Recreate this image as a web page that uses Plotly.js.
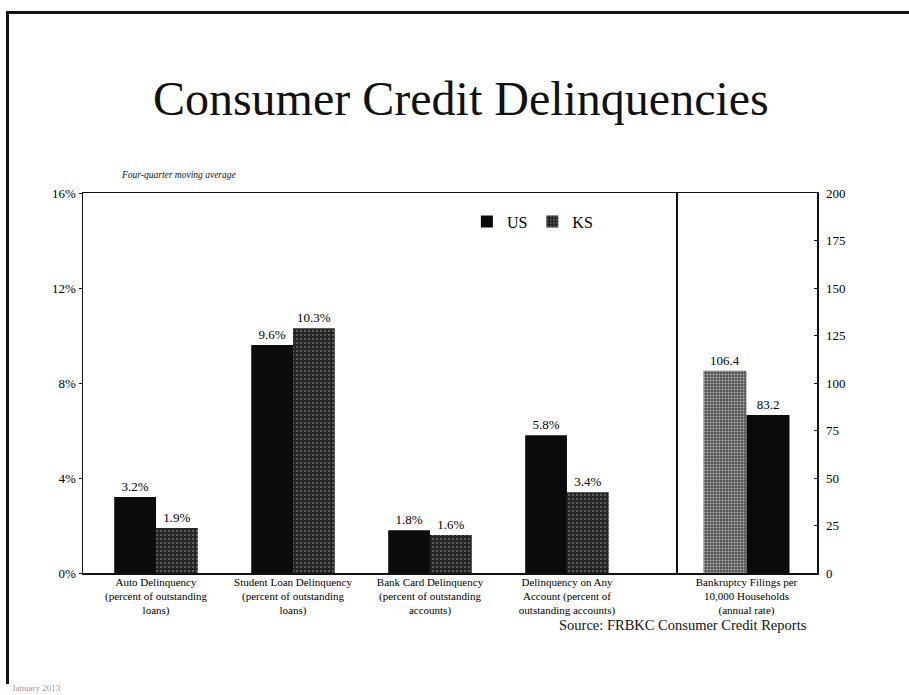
<!DOCTYPE html>
<html>
<head>
<meta charset="utf-8">
<script src="https://cdn.plot.ly/plotly-3.0.1.min.js"></script>
<style>
  html, body { margin: 0; padding: 0; background: #fff; }
  #wrap { position: relative; width: 909px; height: 695px; }
  #chart { width: 909px; height: 695px; }
  #frame { position: absolute; left: 6px; top: 11px; width: 905px; height: 670px;
           border-top: 3px solid #111; border-left: 3px solid #111; pointer-events: none; }
</style>
</head>
<body>
<div id="wrap">
  <div id="chart"></div>
  <div id="frame"></div>
</div>
<script>
// ---- data ----
const categories = [
  'Auto Delinquency<br>(percent of outstanding<br>loans)',
  'Student Loan Delinquency<br>(percent of outstanding<br>loans)',
  'Bank Card Delinquency<br>(percent of outstanding<br>accounts)',
  'Delinquency on Any<br>Account (percent of<br>outstanding accounts)'
];
const usRates = [3.2, 9.6, 1.8, 5.8];
const ksRates = [1.9, 10.3, 1.6, 3.4];

const bankruptcyCategory = ['Bankruptcy Filings per<br>10,000 Households<br>(annual rate)'];
const usBankruptcy = [106.4];
const ksBankruptcy = [83.2];

const leftTickValues = [0, 4, 8, 12, 16];
const leftTickLabels = ['0%', '4%', '8%', '12%', '16%'];
const rightTickValues = [0, 25, 50, 75, 100, 125, 150, 175, 200];

// ---- chart ----
const serif = 'Liberation Serif, Times New Roman, serif';
const labelFont = { family: serif, size: 13, color: '#000' };

const traces = [
  {
    type: 'bar', name: 'US', x: categories, y: usRates,
    xaxis: 'x', yaxis: 'y',
    marker: { color: '#0b0b0b' },
    texttemplate: '%{y:.1f}%', textposition: 'outside', cliponaxis: false,
    textfont: labelFont, hoverinfo: 'x+y'
  },
  {
    type: 'bar', name: 'KS', x: categories, y: ksRates,
    xaxis: 'x', yaxis: 'y',
    marker: { color: '#2a2a2a',
              pattern: { shape: '.', fillmode: 'replace', bgcolor: '#252525', fgcolor: '#6e6e6e', size: 4, solidity: 0.2 } },
    texttemplate: '%{y:.1f}%', textposition: 'outside', cliponaxis: false,
    textfont: labelFont, hoverinfo: 'x+y'
  },
  {
    type: 'bar', name: 'US', x: bankruptcyCategory, y: usBankruptcy,
    xaxis: 'x2', yaxis: 'y2', showlegend: false,
    marker: { color: '#5a5a5a',
              pattern: { shape: '.', fillmode: 'replace', bgcolor: '#505050', fgcolor: '#b0b0b0', size: 3, solidity: 0.4 } },
    texttemplate: '%{y:.1f}', textposition: 'outside', cliponaxis: false,
    textfont: labelFont, hoverinfo: 'x+y'
  },
  {
    type: 'bar', name: 'KS', x: bankruptcyCategory, y: ksBankruptcy,
    xaxis: 'x2', yaxis: 'y2', showlegend: false,
    marker: { color: '#0b0b0b' },
    texttemplate: '%{y:.1f}', textposition: 'outside', cliponaxis: false,
    textfont: labelFont, hoverinfo: 'x+y'
  }
];

const split = (676 - 83) / (817 - 83);
const axisLine = { showline: true, linecolor: '#111', linewidth: 1.5, mirror: true, showgrid: false, zeroline: false };
const catFont = { family: serif, size: 11, color: '#000' };
const numFont = { family: serif, size: 13, color: '#000' };

const layout = {
  width: 909, height: 695,
  paper_bgcolor: '#fff', plot_bgcolor: '#fff',
  margin: { l: 83, r: 92, t: 193, b: 122, pad: 0 },
  font: { family: serif, color: '#000' },
  title: {
    text: 'Consumer Credit Delinquencies',
    font: { family: serif, size: 48, color: '#111' },
    xref: 'container', yref: 'container', x: 0.507, y: 1 - 98 / 695,
    xanchor: 'center', yanchor: 'middle'
  },
  barmode: 'group', bargap: 0.39, bargroupgap: 0,
  showlegend: true,
  legend: {
    orientation: 'h', x: 0.523, y: 0.925, xanchor: 'left', yanchor: 'middle',
    font: { family: serif, size: 16, color: '#000' }, bgcolor: 'rgba(0,0,0,0)',
    itemwidth: 30, traceorder: 'normal'
  },
  xaxis: Object.assign({}, axisLine, {
    domain: [0, split], anchor: 'y', type: 'category', ticks: '',
    range: [-0.533, 3.796], ticklabelstandoff: -2,
    tickfont: catFont
  }),
  xaxis2: Object.assign({}, axisLine, {
    domain: [split, 1], anchor: 'y2', type: 'category', ticks: '',
    ticklabelstandoff: -2,
    tickfont: catFont
  }),
  yaxis: Object.assign({}, axisLine, {
    anchor: 'x', range: [0, 16], tickmode: 'array',
    tickvals: leftTickValues, ticktext: leftTickLabels,
    ticks: 'outside', ticklen: 3, tickcolor: '#111',
    tickfont: numFont
  }),
  yaxis2: Object.assign({}, axisLine, {
    anchor: 'x2', side: 'right', mirror: false, range: [0, 200], tickvals: rightTickValues,
    ticks: 'inside', ticklen: 3, tickcolor: '#111', ticklabelstandoff: 5,
    tickfont: numFont
  }),
  annotations: [
    {
      text: '<i>Four-quarter moving average</i>', xref: 'paper', yref: 'paper',
      x: (119 - 83) / 734, y: (573 - 175) / 380, xanchor: 'left', yanchor: 'middle',
      showarrow: false, font: { family: serif, size: 9.5, color: '#111' }
    },
    {
      text: 'Source: FRBKC Consumer Credit Reports', xref: 'paper', yref: 'paper',
      x: (809 - 83) / 734, y: (573 - 625) / 380, xanchor: 'right', yanchor: 'middle',
      showarrow: false, font: { family: serif, size: 14.5, color: '#111' }
    },
    {
      text: 'January 2013', xref: 'paper', yref: 'paper',
      x: (10 - 83) / 734, y: (573 - 688) / 380, xanchor: 'left', yanchor: 'middle',
      showarrow: false, font: { family: serif, size: 9, color: '#999' }
    }
  ]
};

Plotly.newPlot('chart', traces, layout, { displayModeBar: false, staticPlot: true });
</script>
</body>
</html>
